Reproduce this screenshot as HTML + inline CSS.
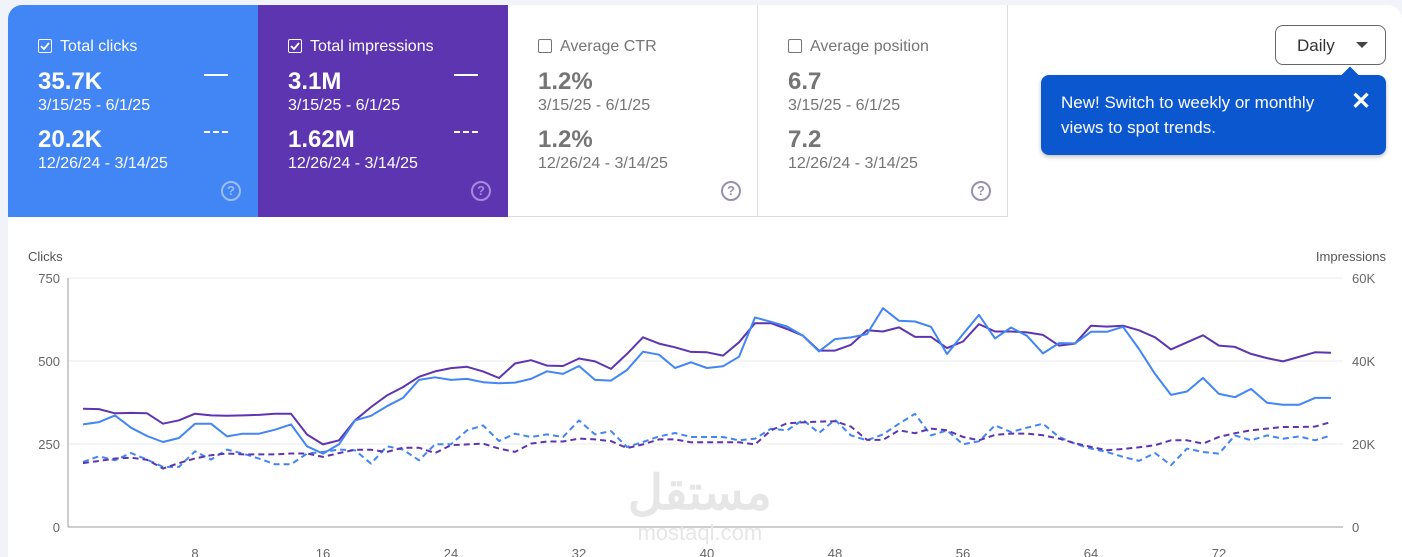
<!DOCTYPE html>
<html><head><meta charset="utf-8"><style>
body{margin:0;width:1402px;height:557px;overflow:hidden;background:#f0f3f9;font-family:"Liberation Sans",sans-serif;position:relative}
.panel{position:absolute;left:8px;top:5px;width:1394px;height:552px;background:#fff;border-radius:14px 14px 0 0}
.card{position:absolute;top:5px;width:250px;height:212px;box-sizing:border-box;padding:0 0 0 30px}
.card .t{position:absolute;left:30px;top:33px;font-size:16px}
.cb{display:inline-block;width:12px;height:12px;border:1.5px solid currentColor;border-radius:2px;vertical-align:-2px;margin-right:8px;position:relative}
.card .v{position:absolute;left:30px;font-size:24px;font-weight:bold}
.card .d{position:absolute;left:30px;font-size:16px}
.q{position:absolute;left:213px;top:176px;width:16px;height:16px;border:2px solid;border-radius:50%;font-size:13px;font-weight:bold;text-align:center;line-height:16px}
.ln{position:absolute;left:196px;width:24px;height:0}
</style></head><body>
<div class="panel"></div>
<div class="card" style="left:8px;background:#4285f4;color:#fff;border-top-left-radius:14px">
<div class="t"><span class="cb"><svg width="12" height="12" style="position:absolute;left:0;top:0"><path d="M2 6l3 3 5-6" stroke="#fff" stroke-width="1.8" fill="none"/></svg></span>Total clicks</div>
<div class="v" style="top:63px">35.7K</div><div class="d" style="top:92px">3/15/25 - 6/1/25</div>
<div class="v" style="top:121px">20.2K</div><div class="d" style="top:150px">12/26/24 - 3/14/25</div>
<div class="ln" style="top:69px;border-top:2px solid #fff"></div><div class="ln" style="top:126px;border-top:2px dashed #fff"></div>
<div class="q" style="color:#9ebdf8;border-color:#9ebdf8">?</div></div>
<div class="card" style="left:258px;background:#5e35b1;color:#fff">
<div class="t"><span class="cb"><svg width="12" height="12" style="position:absolute;left:0;top:0"><path d="M2 6l3 3 5-6" stroke="#fff" stroke-width="1.8" fill="none"/></svg></span>Total impressions</div>
<div class="v" style="top:63px">3.1M</div><div class="d" style="top:92px">3/15/25 - 6/1/25</div>
<div class="v" style="top:121px">1.62M</div><div class="d" style="top:150px">12/26/24 - 3/14/25</div>
<div class="ln" style="top:69px;border-top:2px solid #fff"></div><div class="ln" style="top:126px;border-top:2px dashed #fff"></div>
<div class="q" style="color:#a78bd8;border-color:#a78bd8">?</div></div>
<div class="card" style="left:508px;background:#fff;color:#757575;border-right:1px solid #ddd;border-bottom:1px solid #ddd">
<div class="t"><span class="cb"></span>Average CTR</div>
<div class="v" style="top:63px">1.2%</div><div class="d" style="top:92px">3/15/25 - 6/1/25</div>
<div class="v" style="top:121px">1.2%</div><div class="d" style="top:150px">12/26/24 - 3/14/25</div>
<div class="q" style="color:#9a8fb0;border-color:#9a8fb0">?</div></div>
<div class="card" style="left:758px;background:#fff;color:#757575;border-right:1px solid #ddd;border-bottom:1px solid #ddd">
<div class="t"><span class="cb"></span>Average position</div>
<div class="v" style="top:63px">6.7</div><div class="d" style="top:92px">3/15/25 - 6/1/25</div>
<div class="v" style="top:121px">7.2</div><div class="d" style="top:150px">12/26/24 - 3/14/25</div>
<div class="q" style="color:#9a8fb0;border-color:#9a8fb0">?</div></div>
<div style="position:absolute;left:1275px;top:25px;width:111px;height:40px;border:1px solid #666;border-radius:8px;box-sizing:border-box;background:#fff;font-size:17px;color:#333">
<span style="position:absolute;left:21px;top:10px">Daily</span><span style="position:absolute;left:80px;top:16px;border-left:6px solid transparent;border-right:6px solid transparent;border-top:6px solid #444"></span></div>
<div style="position:absolute;left:1041px;top:75px;width:345px;height:80px;background:#0b57d0;border-radius:8px;color:#fff;font-size:17px;box-shadow:0 2px 4px rgba(0,0,0,.25)">
<span style="position:absolute;left:303px;top:-6px;width:12px;height:12px;background:#0b57d0;transform:rotate(45deg)"></span>
<div style="position:absolute;left:20px;top:15px;line-height:25px">New! Switch to weekly or monthly<br>views to spot trends.</div>
<div style="position:absolute;left:310px;top:12px;font-size:24px;font-weight:bold">✕</div></div>
<svg id="chart" width="1402" height="557" style="position:absolute;left:0;top:0" font-family="Liberation Sans, sans-serif"></svg>
<div style="position:absolute;left:628px;top:468px;color:#e6e6e6;font-family:'Liberation Sans','Noto Sans CJK SC',sans-serif;text-align:center"><div style="font-size:48px;font-weight:bold;line-height:52px">مستقل</div><div style="font-size:22px">mostaql.com</div></div>
<script>
const clicksCur=[309,316,336,299,274,256,268,311,311,273,281,281,293,309,243,221,249,321,335,364,389,443,451,443,446,436,433,435,446,469,461,485,443,441,473,528,519,479,496,479,484,513,631,618,604,576,529,566,571,581,659,621,619,603,521,581,639,568,601,576,523,554,553,588,588,603,536,461,398,408,449,401,391,416,374,368,368,389,389];
const clicksPrev=[196,213,201,223,203,181,181,228,203,233,221,206,189,189,221,226,233,231,191,243,233,201,249,249,291,306,259,281,271,279,271,321,279,289,241,256,273,283,271,271,271,261,266,296,291,323,283,323,276,261,279,311,341,276,291,249,258,306,286,299,311,271,251,236,226,211,199,223,186,236,226,221,276,261,276,266,273,261,276];
const imprCur=[28.5,28.4,27.4,27.5,27.4,24.9,25.7,27.3,26.9,26.8,26.9,27.0,27.3,27.3,22.3,19.9,20.9,25.7,28.9,31.7,33.7,36.2,37.5,38.3,38.6,37.5,35.9,39.4,40.2,38.9,38.8,40.6,39.9,38.1,41.7,45.7,44.2,43.3,42.2,42.1,41.3,44.5,49.1,49.1,47.7,46.1,42.5,42.5,43.9,47.4,47.1,48.1,45.8,45.8,43.1,44.7,48.9,47.1,47.1,46.9,46.3,43.7,44.2,48.5,48.3,48.5,47.4,45.7,42.8,44.5,46.2,43.7,43.4,41.7,40.7,39.9,41.0,42.1,42.0];
const imprPrev=[15.4,15.9,16.5,16.7,16.2,14.1,15.4,16.5,17.3,17.7,17.5,17.5,17.5,17.7,17.7,16.9,17.8,18.6,18.6,18.1,19.1,19.1,17.8,19.7,19.9,20.1,18.9,18.1,20.1,20.6,20.6,21.3,21.1,20.7,19.0,19.9,21.1,21.1,20.4,20.4,20.4,20.4,19.9,23.3,25.0,25.2,25.4,25.5,24.2,21.0,21.0,23.3,22.6,23.7,23.3,21.7,20.9,22.2,22.5,22.5,22.1,21.3,20.2,19.3,18.5,18.8,19.2,19.7,20.9,20.9,20.1,21.7,22.6,23.3,23.7,24.1,24.1,24.2,25.3];
const leftTicks=[0,250,500,750];
const rightTicks=["0","20K","40K","60K"];
const xTicks=[8,16,24,32,40,48,56,64,72];
const NS="http://www.w3.org/2000/svg";const svg=document.getElementById('chart');
const x0=67,dx=16,yB=527,yT=278;
const xs=d=>x0+dx*d;
const yl=v=>yB-(v/750)*(yB-yT);
const yr=v=>yB-(v/60)*(yB-yT);
function mk(t,a){const e=document.createElementNS(NS,t);for(const k in a)e.setAttribute(k,a[k]);svg.appendChild(e);return e;}
leftTicks.forEach((v,i)=>{const y=yl(v);
 const g=mk('line',{x1:68,x2:1343,y1:y,y2:y,stroke:i==0?'#9e9e9e':'#ebebeb','stroke-width':1});
 
 
 const t=mk('text',{x:60,y:y+5,'text-anchor':'end','font-size':13,fill:'#666'});t.textContent=v;
 
 
 const r=mk('text',{x:1352,y:y+5,'font-size':13,fill:'#666'});r.textContent=rightTicks[i];
 
 });
const ax=mk('line',{x1:68,x2:68,y1:yT,y2:yB,stroke:'#9e9e9e'});


xTicks.forEach(d=>{const t=mk('text',{x:xs(d),y:558,'text-anchor':'middle','font-size':13,fill:'#666'});t.textContent=d;
 
 });
const lt=mk('text',{x:28,y:261,'font-size':13,fill:'#555'});lt.textContent='Clicks';


const rt=mk('text',{x:1386,y:261,'font-size':13,fill:'#555','text-anchor':'end'});rt.textContent='Impressions';


function line(arr,f,col,dash,name){const p=mk('polyline',{points:arr.map((v,i)=>xs(i+1)+','+f(v).toFixed(1)).join(' '),fill:'none',stroke:col,'stroke-width':2,'stroke-dasharray':dash?'6 4':'none','stroke-linejoin':'round'});
 
 }
line(clicksPrev,yl,'#4285f4',true,'clicks-previous-line');
line(imprPrev,yr,'#5e35b1',true,'impressions-previous-line');
line(imprCur,yr,'#5e35b1',false,'impressions-current-line');
line(clicksCur,yl,'#4285f4',false,'clicks-current-line');
</script>
</body></html>
